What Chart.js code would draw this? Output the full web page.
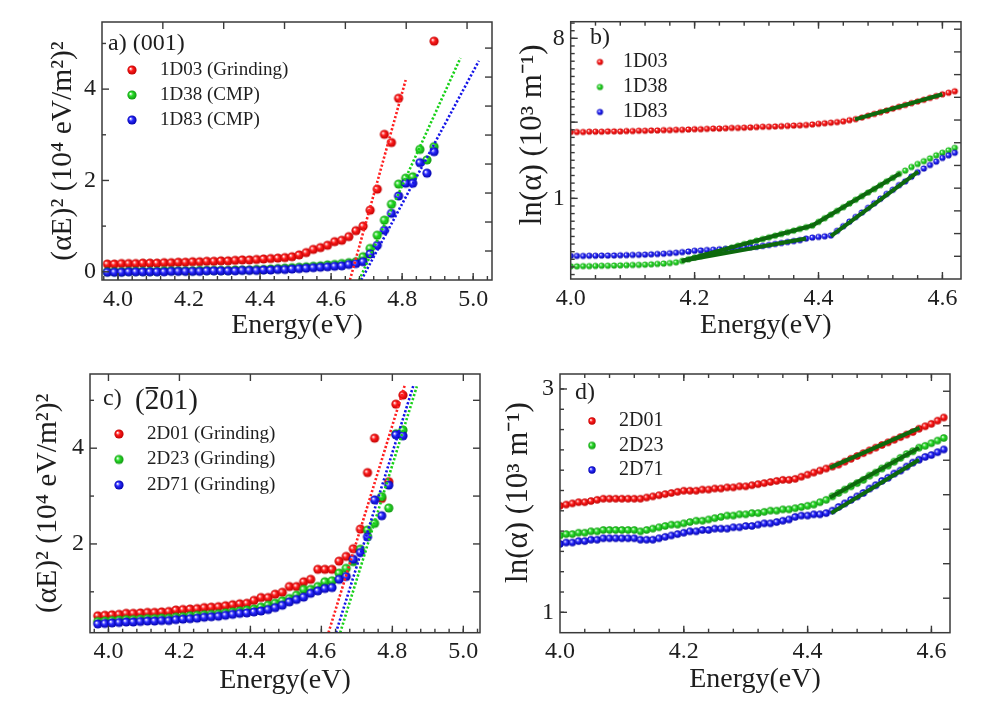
<!DOCTYPE html>
<html>
<head>
<meta charset="utf-8">
<title>Absorption edge plots</title>
<script src="https://cdn.jsdelivr.net/npm/chart.js@4.4.1/dist/chart.umd.min.js"></script>
<style>
  body { margin: 0; background: #fff; }
  #wrap { position: relative; width: 1003px; height: 705px; }
  canvas { position: absolute; }
</style>
</head>
<body>
<div id="wrap">
  <canvas id="chartA" width="500" height="345" style="left:0;top:0"></canvas>
  <canvas id="chartB" width="503" height="345" style="left:500px;top:0"></canvas>
  <canvas id="chartC" width="500" height="360" style="left:0;top:345px"></canvas>
  <canvas id="chartD" width="503" height="360" style="left:500px;top:345px"></canvas>
</div>
<script>
// ---------- data ----------

// panel a) (001) : (alpha E)^2 vs energy
const energyA = [3.97, 3.99, 4.01, 4.03, 4.05, 4.07, 4.09, 4.11, 4.13, 4.15,
  4.17, 4.19, 4.21, 4.23, 4.25, 4.27, 4.29, 4.31, 4.33, 4.35,
  4.37, 4.39, 4.41, 4.43, 4.45, 4.47, 4.49, 4.51, 4.53, 4.55,
  4.57, 4.59, 4.61, 4.63, 4.65, 4.67, 4.69, 4.71, 4.73, 4.75,
  4.77, 4.79, 4.81, 4.83, 4.85, 4.87, 4.89];
const a1D03 = [0.17, 0.17, 0.18, 0.18, 0.18, 0.19, 0.19, 0.19, 0.20, 0.20,
  0.21, 0.21, 0.22, 0.22, 0.23, 0.23, 0.24, 0.24, 0.25, 0.26,
  0.26, 0.27, 0.28, 0.29, 0.30, 0.31, 0.33, 0.37, 0.42, 0.49,
  0.53, 0.58, 0.66, 0.69, 0.77, 0.90, 1.00, 1.35, 1.81, 3.01,
  2.83, 3.80, null, null, null, null, 5.05];
const a1D38 = [0.00, 0.00, 0.00, 0.01, 0.01, 0.01, 0.01, 0.01, 0.02, 0.02,
  0.02, 0.02, 0.02, 0.03, 0.03, 0.03, 0.03, 0.03, 0.04, 0.04,
  0.04, 0.05, 0.05, 0.06, 0.07, 0.08, 0.09, 0.10, 0.11, 0.12,
  0.13, 0.15, 0.16, 0.18, 0.20, 0.22, 0.33, 0.51, 0.80, 1.13,
  1.48, 1.92, 2.05, 2.08, 2.68, 2.45, 2.74];
const a1D83 = [-0.01, -0.01, -0.01, 0.00, 0.00, 0.00, 0.00, 0.00, 0.00, 0.01,
  0.01, 0.01, 0.01, 0.01, 0.02, 0.02, 0.02, 0.02, 0.02, 0.03,
  0.03, 0.03, 0.04, 0.04, 0.05, 0.05, 0.06, 0.07, 0.08, 0.09,
  0.10, 0.11, 0.12, 0.13, 0.16, 0.18, 0.22, 0.39, 0.58, 0.91,
  1.28, 1.66, 1.94, 1.94, 2.39, 2.16, 2.63];
// linear fits (end points)
const fitA1D03x = [4.653, 4.81], fitA1D03y = [-0.18, 4.2];
const fitA1D38x = [4.679, 4.964], fitA1D38y = [-0.18, 4.68];
const fitA1D83x = [4.685, 5.016], fitA1D83y = [-0.18, 4.62];

// panel c) (-201)
const energyC = [3.97, 3.99, 4.01, 4.03, 4.05, 4.07, 4.09, 4.11, 4.13, 4.15,
  4.17, 4.19, 4.21, 4.23, 4.25, 4.27, 4.29, 4.31, 4.33, 4.35,
  4.37, 4.39, 4.41, 4.43, 4.45, 4.47, 4.49, 4.51, 4.53, 4.55,
  4.57, 4.59, 4.61, 4.63, 4.65, 4.67, 4.69, 4.71, 4.73, 4.75,
  4.77, 4.79, 4.81, 4.83];
const c2D01 = [0.50, 0.51, 0.52, 0.53, 0.55, 0.55, 0.56, 0.57, 0.57, 0.58,
  0.59, 0.62, 0.63, 0.64, 0.65, 0.67, 0.68, 0.69, 0.71, 0.73,
  0.75, 0.76, 0.82, 0.88, 0.88, 0.95, 0.99, 1.11, 1.11, 1.21,
  1.26, 1.47, 1.47, 1.47, 1.64, 1.74, 1.90, 2.31, 3.49, 4.21,
  2.95, 3.30, 4.92, 5.11];
const c2D23 = [0.38, 0.39, 0.40, 0.41, 0.42, 0.42, 0.43, 0.44, 0.44, 0.45,
  0.45, 0.47, 0.48, 0.50, 0.51, 0.52, 0.53, 0.54, 0.56, 0.58,
  0.60, 0.62, 0.64, 0.68, 0.72, 0.76, 0.81, 0.86, 0.93, 1.05,
  1.05, 1.11, 1.21, 1.23, 1.39, 1.49, 1.63, 1.89, 2.29, 2.43,
  2.99, 2.75, 4.30, 4.38];
const c2D71 = [0.33, 0.34, 0.35, 0.36, 0.37, 0.37, 0.38, 0.39, 0.39, 0.40,
  0.40, 0.42, 0.43, 0.44, 0.45, 0.47, 0.48, 0.49, 0.51, 0.53,
  0.55, 0.56, 0.58, 0.60, 0.63, 0.67, 0.72, 0.79, 0.84, 0.89,
  0.97, 1.02, 1.07, 1.09, 1.26, 1.32, 1.68, 1.82, 2.15, 2.92,
  2.59, 3.23, 4.28, 4.26];
const fitC2D01x = [4.62, 4.836], fitC2D01y = [0.146, 5.34];
const fitC2D23x = [4.653, 4.869], fitC2D23y = [0.146, 5.29];
const fitC2D71x = [4.641, 4.859], fitC2D71y = [0.146, 5.30];

// panels b) and d) : ln(alpha), 0.01 eV steps
const energyBD = [4.00, 4.01, 4.02, 4.03, 4.04, 4.05, 4.06, 4.07, 4.08, 4.09,
  4.10, 4.11, 4.12, 4.13, 4.14, 4.15, 4.16, 4.17, 4.18, 4.19,
  4.20, 4.21, 4.22, 4.23, 4.24, 4.25, 4.26, 4.27, 4.28, 4.29,
  4.30, 4.31, 4.32, 4.33, 4.34, 4.35, 4.36, 4.37, 4.38, 4.39,
  4.40, 4.41, 4.42, 4.43, 4.44, 4.45, 4.46, 4.47, 4.48, 4.49,
  4.50, 4.51, 4.52, 4.53, 4.54, 4.55, 4.56, 4.57, 4.58, 4.59,
  4.60, 4.61, 4.62];
const b1D03 = [2.39, 2.39, 2.39, 2.40, 2.40, 2.40, 2.41, 2.41, 2.41, 2.42,
  2.42, 2.43, 2.43, 2.44, 2.44, 2.45, 2.45, 2.46, 2.46, 2.47,
  2.48, 2.48, 2.49, 2.50, 2.50, 2.51, 2.52, 2.52, 2.53, 2.54,
  2.55, 2.56, 2.56, 2.57, 2.58, 2.59, 2.60, 2.61, 2.62, 2.64,
  2.66, 2.68, 2.70, 2.72, 2.75, 2.79, 2.83, 2.89, 2.96, 3.03,
  3.10, 3.17, 3.25, 3.33, 3.41, 3.49, 3.57, 3.65, 3.74, 3.83,
  3.92, 4.00, 4.08];
const b1D38 = [0.410, 0.410, 0.411, 0.411, 0.412, 0.413, 0.413, 0.414, 0.415, 0.416,
  0.417, 0.418, 0.419, 0.421, 0.423, 0.425, 0.428, 0.432, 0.440, 0.450,
  0.460, 0.470, 0.481, 0.491, 0.502, 0.514, 0.525, 0.537, 0.549, 0.561,
  0.574, 0.587, 0.600, 0.613, 0.627, 0.641, 0.655, 0.670, 0.685, 0.700,
  0.735, 0.771, 0.809, 0.849, 0.891, 0.935, 0.982, 1.03, 1.08, 1.13,
  1.19, 1.25, 1.31, 1.38, 1.44, 1.51, 1.57, 1.63, 1.69, 1.76,
  1.82, 1.88, 1.94];
const b1D83 = [0.470, 0.470, 0.470, 0.471, 0.471, 0.472, 0.472, 0.473, 0.474, 0.475,
  0.476, 0.477, 0.478, 0.480, 0.482, 0.484, 0.487, 0.490, 0.494, 0.498,
  0.503, 0.505, 0.508, 0.510, 0.513, 0.515, 0.518, 0.521, 0.524, 0.527,
  0.530, 0.536, 0.543, 0.550, 0.557, 0.564, 0.571, 0.578, 0.590, 0.598,
  0.603, 0.608, 0.615, 0.653, 0.694, 0.737, 0.783, 0.831, 0.883, 0.938,
  0.996, 1.06, 1.12, 1.19, 1.25, 1.33, 1.41, 1.48, 1.55, 1.62,
  1.70, 1.76, 1.82];
const fitB1D03x = [4.459, 4.60], fitB1D03y = [2.82, 3.92];
const fitB1D38x = [4.179, 4.39, 4.532], fitB1D38y = [0.44, 0.70, 1.39];
const fitB1D83ax = [4.179, 4.38], fitB1D83ay = [0.44, 0.59];
const fitB1D83bx = [4.42, 4.561], fitB1D83by = [0.61, 1.42];

const d2D01 = [1.69, 1.70, 1.71, 1.72, 1.72, 1.73, 1.74, 1.75, 1.75, 1.75,
  1.75, 1.75, 1.75, 1.75, 1.76, 1.77, 1.78, 1.79, 1.80, 1.81,
  1.82, 1.82, 1.82, 1.83, 1.83, 1.84, 1.84, 1.85, 1.85, 1.86,
  1.86, 1.87, 1.88, 1.89, 1.90, 1.91, 1.92, 1.92, 1.93, 1.95,
  1.97, 1.99, 2.01, 2.03, 2.05, 2.07, 2.10, 2.13, 2.16, 2.19,
  2.22, 2.25, 2.28, 2.31, 2.34, 2.37, 2.40, 2.43, 2.47, 2.50,
  2.53, 2.57, 2.61];
const d2D23 = [1.46, 1.47, 1.47, 1.48, 1.48, 1.49, 1.49, 1.50, 1.50, 1.50,
  1.50, 1.50, 1.50, 1.49, 1.50, 1.51, 1.52, 1.53, 1.54, 1.54,
  1.55, 1.56, 1.57, 1.57, 1.58, 1.59, 1.60, 1.61, 1.61, 1.62,
  1.62, 1.63, 1.63, 1.64, 1.65, 1.65, 1.66, 1.66, 1.67, 1.68,
  1.69, 1.70, 1.72, 1.74, 1.77, 1.80, 1.83, 1.86, 1.89, 1.92,
  1.96, 1.99, 2.03, 2.06, 2.10, 2.14, 2.18, 2.21, 2.25, 2.27,
  2.30, 2.33, 2.36];
const d2D71 = [1.40, 1.41, 1.41, 1.42, 1.42, 1.43, 1.43, 1.44, 1.44, 1.44,
  1.44, 1.44, 1.44, 1.43, 1.43, 1.43, 1.44, 1.45, 1.46, 1.47,
  1.48, 1.49, 1.49, 1.50, 1.50, 1.51, 1.51, 1.51, 1.52, 1.52,
  1.53, 1.53, 1.54, 1.55, 1.55, 1.56, 1.57, 1.58, 1.60, 1.61,
  1.61, 1.62, 1.62, 1.63, 1.65, 1.68, 1.71, 1.74, 1.77, 1.80,
  1.84, 1.87, 1.91, 1.94, 1.98, 2.01, 2.05, 2.09, 2.12, 2.15,
  2.17, 2.20, 2.23];
const fitD2D01x = [4.436, 4.581], fitD2D01y = [2.04, 2.48];
const fitD2D23x = [4.436, 4.58], fitD2D23y = [1.76, 2.25];
const fitD2D71x = [4.438, 4.58], fitD2D71y = [1.63, 2.12];

// tick labels
const ticksEnergyAC = [4.0, 4.2, 4.4, 4.6, 4.8, 5.0];
const ticksEnergyBD = [4.0, 4.2, 4.4, 4.6];
const ticksYA = [0, 2, 4];
const ticksYC = [2, 4];
const ticksYB = [1, 8.17];   // ln axis, e^0 and e^2.1
const ticksYD = [1, 3.004];  // e^0 and e^1.1

// ---------- helpers ----------
const serif = '"Liberation Serif", "Times New Roman", serif';
const INK = '#1e1e1e';

function steps(a, b, st) {
  const out = [];
  for (let v = a; v <= b + 1e-9; v += st) out.push(Math.round(v * 1000) / 1000);
  return out;
}
function lnTicks(k0, k1) {
  const out = [];
  for (let k = k0; k <= k1; k++) out.push(Math.exp(k / 10));
  return out;
}
function xy(xs, ys) {
  return xs.map((x, i) => ({ x: x, y: ys[i] }));
}

// shaded ball used as marker
function ball(fill, dark, r) {
  const c = document.createElement('canvas');
  const s = Math.ceil(r * 2) + 2;
  c.width = c.height = s;
  const g = c.getContext('2d');
  const m = s / 2;
  const grad = g.createRadialGradient(m - r * 0.35, m - r * 0.3, r * 0.05, m, m, r);
  grad.addColorStop(0, '#ffffff');
  grad.addColorStop(0.4, fill);
  grad.addColorStop(1, dark);
  g.fillStyle = grad;
  g.beginPath();
  g.arc(m, m, r, 0, Math.PI * 2);
  g.fill();
  return c;
}
const RED = ['#ff1c1c', '#c00000'];
const GREEN = ['#2add2a', '#0f960f'];
const BLUE = ['#2c2cff', '#0000aa'];

// inward ticks and frame, Origin style
const frameTicks = {
  id: 'frameTicks',
  afterDatasetsDraw(chart, args, opts) {
    const ctx = chart.ctx, a = chart.chartArea;
    ctx.save();
    ctx.strokeStyle = '#3a3a3a';
    ctx.lineWidth = 1.4;
    (opts.sets || []).forEach(s => {
      const scale = chart.scales[s.scale];
      s.values.forEach(v => {
        const p = scale.getPixelForValue(v);
        ctx.beginPath();
        if (s.side === 'bottom' || s.side === 'top') {
          if (p < a.left + 1 || p > a.right - 1) return;
          const y0 = s.side === 'bottom' ? a.bottom : a.top;
          ctx.moveTo(p, y0);
          ctx.lineTo(p, s.side === 'bottom' ? y0 - s.len : y0 + s.len);
        } else {
          if (p < a.top + 1 || p > a.bottom - 1) return;
          const x0 = s.side === 'left' ? a.left : a.right;
          ctx.moveTo(x0, p);
          ctx.lineTo(s.side === 'left' ? x0 + s.len : x0 - s.len, p);
        }
        ctx.stroke();
      });
    });
    ctx.lineWidth = 1.5;
    ctx.strokeRect(a.left, a.top, a.right - a.left, a.bottom - a.top);
    ctx.restore();
  }
};

// panel letter and legend inside the frame
const panelText = {
  id: 'panelText',
  afterDraw(chart, args, opts) {
    const ctx = chart.ctx;
    ctx.save();
    ctx.fillStyle = INK;
    (opts.items || []).forEach(t => {
      ctx.font = t.font;
      ctx.textBaseline = 'alphabetic';
      ctx.fillText(t.text, t.x, t.y);
      if (t.bar) {
        const pre = ctx.measureText(t.text.slice(0, t.bar[0])).width;
        const w = ctx.measureText(t.text.slice(t.bar[0], t.bar[1])).width;
        ctx.fillRect(t.x + pre + 1, t.y - t.barH, w - 2, 1.8);
      }
    });
    const lg = opts.legend;
    if (lg) {
      ctx.font = lg.font;
      ctx.textBaseline = 'middle';
      chart.data.datasets.filter(d => d.label).forEach((d, i) => {
        const y = lg.y + i * lg.dy;
        const img = d.pointStyle;
        ctx.drawImage(img, lg.x - img.width / 2, y - img.height / 2);
        ctx.fillText(d.label, lg.textX, y);
      });
    }
    ctx.restore();
  }
};

// ---------- panel builder ----------
function makePanel(id, p) {
  const datasets = [];
  p.series.forEach((s, i) => {
    datasets.push({
      label: s.label,
      data: xy(s.x, s.y),
      pointStyle: ball(s.color[0], s.color[1], p.r),
      pointRadius: p.r,
      showLine: false,
      order: 10 - i,
      xAxisID: 'x', yAxisID: 'y'
    });
  });
  p.fits.forEach(f => {
    datasets.push({
      label: '',
      data: xy(f.x, f.y),
      showLine: true,
      pointRadius: 0,
      borderColor: f.color,
      borderWidth: f.width,
      borderDash: f.dash || [],
      borderCapStyle: 'butt',
      fill: false,
      order: 0,
      xAxisID: 'x', yAxisID: 'y'
    });
  });

  const scales = {
    x: {
      type: 'linear', min: p.xMin, max: p.xMax, bounds: 'data',
      afterBuildTicks: sc => { sc.ticks = p.xTicks.map(v => ({ value: v })); },
      afterFit: sc => { sc.height = p.xH; },
      grid: { display: false, drawTicks: false }, border: { display: false },
      ticks: { font: { family: serif, size: 24 }, color: INK, padding: 5,
        maxRotation: 0, callback: v => v.toFixed(1) },
      title: { display: true, text: 'Energy(eV)', color: INK,
        font: { family: serif, size: 28 }, padding: { top: 0, bottom: p.xTitlePad } }
    },
    y: {
      type: p.yType, min: p.yMin, max: p.yMax, bounds: 'data',
      afterBuildTicks: sc => { sc.ticks = p.yTicks.map(v => ({ value: v })); },
      afterFit: sc => { sc.width = p.yW; },
      grid: { display: false, drawTicks: false }, border: { display: false },
      ticks: { font: { family: serif, size: 24 }, color: INK, padding: 6,
        callback: v => String(Math.round(v)) },
      title: { display: true, text: p.yTitle, color: INK,
        font: { family: serif, size: p.yTitleSize }, padding: { top: p.yTitlePad, bottom: 0 } }
    }
  };
  if (p.x2) scales.x2 = { type: 'linear', display: false, position: 'top', min: 0, max: p.x2 };
  if (p.y2) scales.y2 = { type: 'linear', display: false, position: 'right', min: 0, max: p.y2 };

  return new Chart(document.getElementById(id), {
    type: 'scatter',
    data: { datasets: datasets },
    options: {
      responsive: false,
      animation: false,
      events: [],
      layout: { padding: { top: p.padTop, right: p.padRight, left: 0, bottom: 0 } },
      plugins: {
        legend: { display: false },
        tooltip: { enabled: false },
        frameTicks: { sets: p.tickSets },
        panelText: { items: p.texts, legend: p.legend }
      },
      scales: scales
    },
    plugins: [frameTicks, panelText]
  });
}

const dotted = [2.2, 2];
const fitGreen = '#0d690d';

// a) (001)
makePanel('chartA', {
  r: 4.6,
  series: [
    { label: '1D03 (Grinding)', x: energyA, y: a1D03, color: RED },
    { label: '1D38 (CMP)', x: energyA, y: a1D38, color: GREEN },
    { label: '1D83 (CMP)', x: energyA, y: a1D83, color: BLUE }
  ],
  fits: [
    { x: fitA1D03x, y: fitA1D03y, color: '#ff2020', width: 2.6, dash: dotted },
    { x: fitA1D38x, y: fitA1D38y, color: '#18d018', width: 2.6, dash: dotted },
    { x: fitA1D83x, y: fitA1D83y, color: '#1515e8', width: 2.6, dash: dotted }
  ],
  xMin: 3.955, xMax: 5.053, xTicks: ticksEnergyAC,
  yType: 'linear', yMin: -0.18, yMax: 5.47, yTicks: ticksYA,
  yTitle: '(\u03b1E)\u00b2 (10\u2074 eV/m\u00b2)\u00b2', yTitleSize: 29.5,
  padTop: 22, padRight: 8, yW: 102, xH: 65, xTitlePad: 3, yTitlePad: 46,
  x2: 6.41, y2: 8.9,
  tickSets: [
    { scale: 'x', side: 'bottom', values: ticksEnergyAC, len: 7 },
    { scale: 'x', side: 'bottom', values: steps(3.96, 5.04, 0.04), len: 4 },
    { scale: 'y', side: 'left', values: ticksYA, len: 7 },
    { scale: 'y', side: 'left', values: [1, 3, 5], len: 4 },
    { scale: 'x2', side: 'top', values: steps(1, 6, 1), len: 7 },
    { scale: 'y2', side: 'right', values: steps(1, 8, 1), len: 7 }
  ],
  texts: [{ text: 'a) (001)', x: 108, y: 50, font: '24px ' + serif }],
  legend: { x: 132, y: 70, dy: 25, textX: 160, font: '19px ' + serif }
});

// b) ln(alpha), (001)
makePanel('chartB', {
  r: 3.1,
  series: [
    { label: '1D03', x: energyBD, y: b1D03, color: RED },
    { label: '1D38', x: energyBD, y: b1D38, color: GREEN },
    { label: '1D83', x: energyBD, y: b1D83, color: BLUE }
  ],
  fits: [
    { x: fitB1D03x, y: fitB1D03y, color: fitGreen, width: 4 },
    { x: fitB1D38x, y: fitB1D38y, color: fitGreen, width: 4 },
    { x: fitB1D83ax, y: fitB1D83ay, color: fitGreen, width: 4 },
    { x: fitB1D83bx, y: fitB1D83by, color: fitGreen, width: 4 }
  ],
  xMin: 4.0, xMax: 4.63, xTicks: ticksEnergyBD,
  yType: 'logarithmic', yMin: 0.347, yMax: 10.16, yTicks: ticksYB,
  yTitle: '\u2002\u2002ln(\u03b1) (10\u00b3 m\u207b\u00b9)', yTitleSize: 31,
  padTop: 21.7, padRight: 42, yW: 70.7, xH: 66, xTitlePad: 3, yTitlePad: 14,
  y2: 11.33,
  tickSets: [
    { scale: 'x', side: 'bottom', values: ticksEnergyBD, len: 7 },
    { scale: 'x', side: 'bottom', values: steps(4.0, 4.64, 0.04), len: 4 },
    { scale: 'x', side: 'top', values: ticksEnergyBD, len: 7 },
    { scale: 'x', side: 'top', values: steps(4.0, 4.64, 0.04), len: 4 },
    { scale: 'y', side: 'left', values: [1, Math.E, 8.17], len: 7 },
    { scale: 'y', side: 'left', values: lnTicks(-10, 23), len: 4 },
    { scale: 'y2', side: 'right', values: steps(1, 11, 1), len: 7 }
  ],
  texts: [{ text: 'b)', x: 90, y: 44, font: '24px ' + serif }],
  legend: { x: 100, y: 62, dy: 25, textX: 123, font: '20px ' + serif }
});

// c) (-201)
makePanel('chartC', {
  r: 4.6,
  series: [
    { label: '2D01 (Grinding)', x: energyC, y: c2D01, color: RED },
    { label: '2D23 (Grinding)', x: energyC, y: c2D23, color: GREEN },
    { label: '2D71 (Grinding)', x: energyC, y: c2D71, color: BLUE }
  ],
  fits: [
    { x: fitC2D01x, y: fitC2D01y, color: '#ff2020', width: 2.6, dash: dotted },
    { x: fitC2D23x, y: fitC2D23y, color: '#18d018', width: 2.6, dash: dotted },
    { x: fitC2D71x, y: fitC2D71y, color: '#1515e8', width: 2.6, dash: dotted }
  ],
  xMin: 3.948, xMax: 5.047, xTicks: ticksEnergyAC,
  yType: 'linear', yMin: 0.146, yMax: 5.55, yTicks: ticksYC,
  yTitle: '(\u03b1E)\u00b2 (10\u2074 eV/m\u00b2)\u00b2', yTitleSize: 29.5,
  padTop: 29, padRight: 20, yW: 90, xH: 72.3, xTitlePad: 8, yTitlePad: 31,
  tickSets: [
    { scale: 'x', side: 'bottom', values: ticksEnergyAC, len: 7 },
    { scale: 'x', side: 'bottom', values: steps(3.96, 5.04, 0.04), len: 4 },
    { scale: 'x', side: 'top', values: ticksEnergyAC, len: 7 },
    { scale: 'y', side: 'left', values: ticksYC, len: 7 },
    { scale: 'y', side: 'left', values: [1, 3, 5], len: 4 },
    { scale: 'y', side: 'right', values: [1, 2, 3, 4, 5], len: 7 }
  ],
  texts: [
    { text: 'c)', x: 103, y: 60, font: '24px ' + serif },
    { text: '(201)', x: 135, y: 64, font: '29px ' + serif, bar: [1, 2], barH: 22 }
  ],
  legend: { x: 119, y: 89, dy: 25.5, textX: 147, font: '19px ' + serif }
});

// d) ln(alpha), (-201)
makePanel('chartD', {
  r: 3.7,
  series: [
    { label: '2D01', x: energyBD, y: d2D01, color: RED },
    { label: '2D23', x: energyBD, y: d2D23, color: GREEN },
    { label: '2D71', x: energyBD, y: d2D71, color: BLUE }
  ],
  fits: [
    { x: fitD2D01x, y: fitD2D01y, color: fitGreen, width: 4 },
    { x: fitD2D23x, y: fitD2D23y, color: fitGreen, width: 4 },
    { x: fitD2D71x, y: fitD2D71y, color: fitGreen, width: 4 }
  ],
  xMin: 4.0, xMax: 4.63, xTicks: ticksEnergyBD,
  yType: 'logarithmic', yMin: 0.9045, yMax: 3.234, yTicks: ticksYD,
  yTitle: '\u2002\u2009ln(\u03b1) (10\u00b3 m\u207b\u00b9)', yTitleSize: 31,
  padTop: 29, padRight: 53, yW: 60, xH: 72.3, xTitlePad: 9, yTitlePad: 0,
  y2: 7.5,
  tickSets: [
    { scale: 'x', side: 'bottom', values: ticksEnergyBD, len: 7 },
    { scale: 'x', side: 'bottom', values: steps(4.0, 4.64, 0.04), len: 4 },
    { scale: 'x', side: 'top', values: ticksEnergyBD, len: 7 },
    { scale: 'x', side: 'top', values: steps(4.0, 4.64, 0.04), len: 4 },
    { scale: 'y', side: 'left', values: ticksYD, len: 7 },
    { scale: 'y', side: 'left', values: lnTicks(-1, 12), len: 4 },
    { scale: 'y2', side: 'right', values: steps(1, 7, 1), len: 7 }
  ],
  texts: [{ text: 'd)', x: 75, y: 54, font: '24px ' + serif }],
  legend: { x: 92, y: 76, dy: 24.5, textX: 119, font: '20px ' + serif }
});
</script>
</body>
</html>
